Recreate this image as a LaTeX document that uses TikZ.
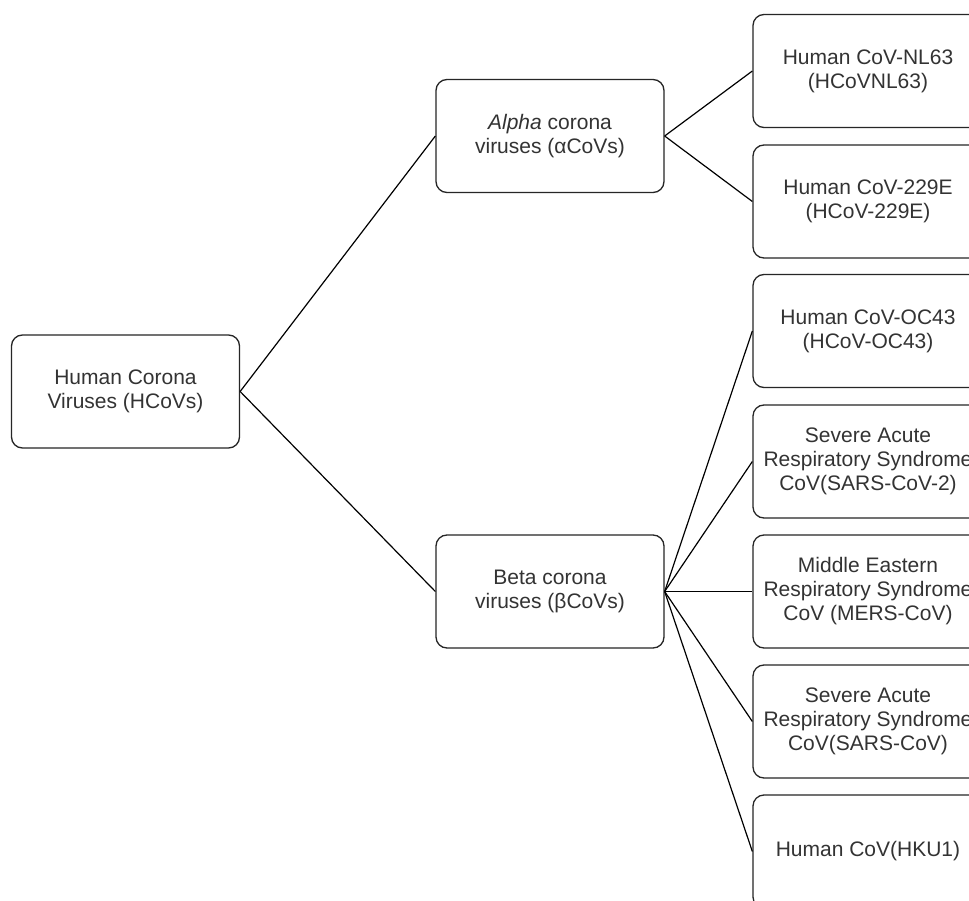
\documentclass[tikz,border=0pt]{standalone}
\usepackage{fontspec}
\setmainfont{Liberation Sans}
\begin{document}
\begin{tikzpicture}[x=1pt,y=-1pt,
  box/.style={draw=black!85, line width=1.3pt, rounded corners=11pt, rectangle,
    minimum width=228pt, minimum height=113pt, inner sep=0pt, align=center,
    font=\fontsize{21}{24}\selectfont, text=black!80},
  rbox/.style={box, minimum width=230pt},
  conn/.style={draw=black, line width=1.2pt}]
\clip (0,0) rectangle (969,901);
\fill[white] (0,0) rectangle (969,901);
\node[box] (root) at (125.5,391.5) {Human Corona\\Viruses (HCoVs)};
\node[box] (alpha) at (550,136) {\textit{Alpha} corona\\viruses (αCoVs)};
\node[box] (beta) at (550,591.5) {Beta corona\\viruses (βCoVs)};
\node[rbox] (nl63) at (868,71) {Human CoV-NL63\\(HCoVNL63)};
\node[rbox] (e229) at (868,201.5) {Human CoV-229E\\(HCoV-229E)};
\node[rbox] (oc43) at (868,331) {Human CoV-OC43\\(HCoV-OC43)};
\node[rbox] (sars2) at (868,461.5) {Severe Acute\\Respiratory Syndrome\\CoV(SARS-CoV-2)};
\node[rbox] (mers) at (868,591.5) {Middle Eastern\\Respiratory Syndrome\\CoV (MERS-CoV)};
\node[rbox] (sars) at (868,721.5) {Severe Acute\\Respiratory Syndrome\\CoV(SARS-CoV)};
\node[rbox] (hku1) at (868,851.5) {Human CoV(HKU1)};
\draw[conn] (root.east) -- (alpha.west);
\draw[conn] (root.east) -- (beta.west);
\draw[conn] (alpha.east) -- (nl63.west);
\draw[conn] (alpha.east) -- (e229.west);
\draw[conn] (beta.east) -- (oc43.west);
\draw[conn] (beta.east) -- (sars2.west);
\draw[conn] (beta.east) -- (mers.west);
\draw[conn] (beta.east) -- (sars.west);
\draw[conn] (beta.east) -- (hku1.west);
\end{tikzpicture}
\end{document}
